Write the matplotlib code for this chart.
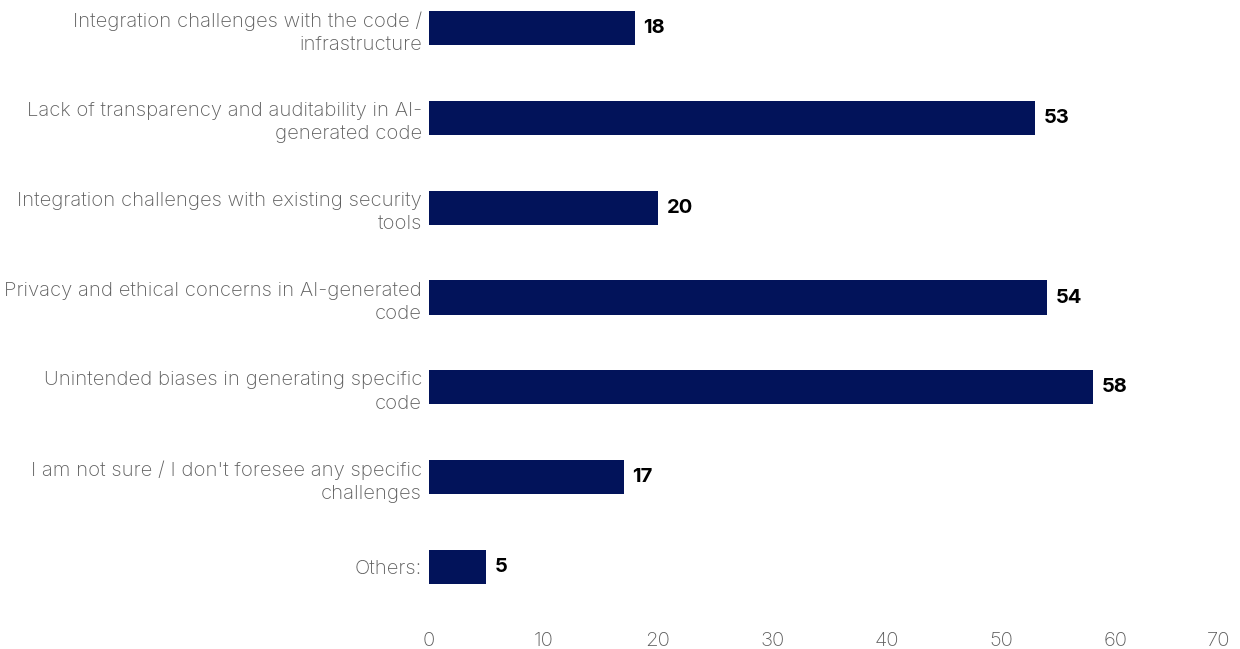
import matplotlib
matplotlib.use("Agg")
import matplotlib.pyplot as plt

plt.rcParams['font.family'] = ['Inter', 'DejaVu Sans']

labels = ["Integration challenges with the code /\ninfrastructure",
          "Lack of transparency and auditability in AI-\ngenerated code",
          "Integration challenges with existing security\ntools",
          "Privacy and ethical concerns in AI-generated\ncode",
          "Unintended biases in generating specific\ncode",
          "I am not sure / I don't foresee any specific\nchallenges",
          "Others:"]
values = [18, 53, 20, 54, 58, 17, 5]
xticks = [0, 10, 20, 30, 40, 50, 60, 70]

W, H = 1240, 649
fig = plt.figure(figsize=(W / 100, H / 100), dpi=100)
ax = fig.add_axes([429 / W, (H - 622) / H, (1230 - 429) / W, 622 / H])

pos = list(range(len(labels)))
ax.barh(pos, values, height=0.38, color='#02135A')
for p, v in zip(pos, values):
    ax.text(v + 0.75, p, str(v), va='center', ha='left', fontsize=14.5,
            fontweight='bold', color='#000000')

ax.set_xlim(0, 70)
ax.set_ylim(6.61, -0.31)
ax.set_yticks(pos)
ax.set_yticklabels(labels, fontsize=14.6, color='#5e5e5e', linespacing=1.38,
                   fontweight='light')
ax.set_xticks(xticks)
ax.set_xticklabels([str(t) for t in xticks], fontsize=14.6, color='#5e5e5e',
                   fontweight='light')
ax.get_xticklabels()[-1].set_ha('right')
ax.tick_params(axis='both', length=0)
ax.tick_params(axis='y', pad=5)
ax.tick_params(axis='x', pad=7)
for s in ax.spines.values():
    s.set_visible(False)

fig.savefig("out.png", dpi=100)
